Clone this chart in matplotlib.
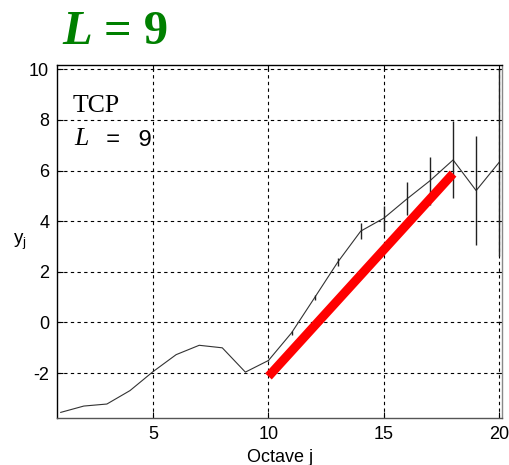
import matplotlib
matplotlib.use("Agg")
import matplotlib.pyplot as plt
import numpy as np

plt.rcParams['axes.unicode_minus'] = False

octave = [1, 2, 3, 4, 5, 6, 7, 8, 9, 10, 11, 12, 13, 14, 15, 16, 17, 18, 19, 20]
yj = [-3.55, -3.30, -3.22, -2.69, -1.94, -1.27, -0.90, -1.00, -1.96, -1.50,
      -0.41, 0.98, 2.38, 3.61, 4.12, 4.88, 5.60, 6.42, 5.21, 6.33]
err = [0.0, 0.0, 0.0, 0.0, 0.0, 0.0, 0.0, 0.0, 0.0, 0.03,
       0.07, 0.10, 0.15, 0.32, 0.50, 0.65, 0.95, 1.52, 2.15, 3.70]
fit_j = [10, 18]
fit_y = [-2.13, 5.88]
xticks = [5, 10, 15, 20]
yticks = [-2, 0, 2, 4, 6, 8, 10]

fig = plt.figure(figsize=(5.10, 4.65), dpi=100)
ax = fig.add_axes([57.5/510, 1 - 417.7/465, (502 - 57.5)/510, (417.7 - 65)/465])

ax.plot(octave, yj, color='#333333', lw=0.8, zorder=3)
ax.errorbar(octave, yj, yerr=err, fmt='none', ecolor='#222222', elinewidth=1.0,
            capsize=0, zorder=3)
ax.plot(fit_j, fit_y, color='#ff0000', lw=6.5, solid_capstyle='butt', zorder=4)

ax.set_xlim(0.86, 20.12)
ax.set_ylim(-3.76, 10.17)
ax.set_xticks(xticks)
ax.set_yticks(yticks)
ax.grid(True, color='black', linestyle=(0, (3, 3)), lw=0.8)
ax.tick_params(direction='in', length=4, top=True, right=True, labelsize=13, pad=6)
for lab in ax.get_xticklabels() + ax.get_yticklabels():
    lab.set_family(['Liberation Sans', 'DejaVu Sans'])
for s in ax.spines.values():
    s.set_linewidth(1.0)
ax.spines['right'].set_color('#888888')
ax.spines['bottom'].set_color('#555555')

ax.set_xlabel('Octave j', fontsize=13, family='Liberation Sans', labelpad=4)
fig.text(13/510, 1 - 242/465, r'y$_\mathregular{j}$', fontsize=13.5, family='Liberation Sans',
         ha='left', va='center')

fig.text(73/510, 1 - 106/465, 'TCP', fontsize=18.5, family='Liberation Serif', va='center', ha='left')
fig.text(74/510, 1 - 139/465, 'L', fontsize=18.5, family='Liberation Serif', style='italic',
         va='center', ha='left')
fig.text(106/510, 1 - 139/465, '=', fontsize=17, family='Liberation Mono', va='center', ha='left')
fig.text(137/510, 1 - 139/465, '9', fontsize=17, family='Liberation Mono', va='center', ha='left')

fig.text(62/510, 1 - 32/465, 'L', fontsize=35, family='Liberation Serif', weight='bold',
         style='italic', color='#008000', va='center', ha='left')
fig.text(104/510, 1 - 32/465, '= 9', fontsize=35, family='Liberation Serif', weight='bold',
         color='#008000', va='center', ha='left')

fig.savefig('out.png', dpi=100)
